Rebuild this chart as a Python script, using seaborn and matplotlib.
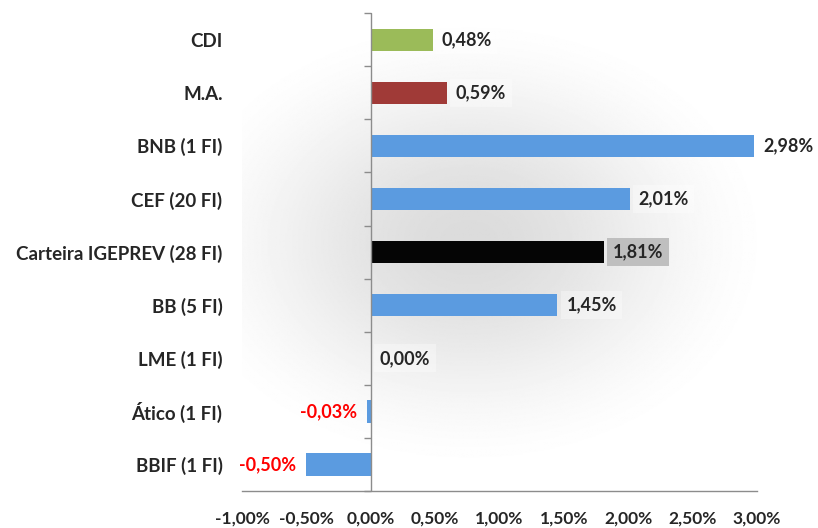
import numpy as np
import pandas as pd
import matplotlib
matplotlib.use("Agg")
import matplotlib.pyplot as plt
import seaborn as sns

# data
categories = ["CDI", "M.A.", "BNB (1 FI)", "CEF (20 FI)", "Carteira IGEPREV (28 FI)",
              "BB (5 FI)", "LME (1 FI)", "Ático (1 FI)", "BBIF (1 FI)"]
returns_pct = [0.48, 0.59, 2.98, 2.01, 1.81, 1.45, 0.00, -0.03, -0.50]
bar_colors = ["#9BBB59", "#A03A37", "#5B9BE0", "#5B9BE0", "#050505",
              "#5B9BE0", "#5B9BE0", "#5B9BE0", "#5B9BE0"]
x_ticks = [-1.0, -0.5, 0.0, 0.5, 1.0, 1.5, 2.0, 2.5, 3.0]

df = pd.DataFrame({"categoria": categories, "retorno": returns_pct})

sns.set_theme(style="white")
plt.rcParams["font.family"] = ["Lato", "DejaVu Sans"]
plt.rcParams["font.weight"] = "bold"

fig = plt.figure(figsize=(8.18, 5.28), dpi=100)
ax = fig.add_axes([0.2958, 0.070, 0.6296, 0.905])

# radial gray background like the Excel plot area
gx, gy = np.meshgrid(np.linspace(0, 1, 400), np.linspace(0, 1, 400))
r = np.sqrt(((gx - 0.44) / 0.62) ** 2 + ((gy - 0.52) / 0.50) ** 2)
t = np.clip(r, 0, 1)
shade = 0.86 + 0.14 * (t * t * (3 - 2 * t))
ax.imshow(shade, cmap="gray", vmin=0, vmax=1, extent=[0, 1, 0, 1],
          transform=ax.transAxes, aspect="auto", zorder=0, origin="lower")

sns.barplot(data=df, y="categoria", x="retorno", hue="categoria",
            palette=dict(zip(categories, bar_colors)), orient="h",
            width=0.42, legend=False, ax=ax, zorder=2, saturation=1,
            linewidth=0)

ax.set_xlim(-1.0, 3.0)
ax.set_ylim(len(categories) - 0.5, -0.5)
ax.set_xticks(x_ticks)
ax.set_xticklabels([f"{t:.2f}%".replace(".", ",") for t in x_ticks])
ax.set_xlabel("")
ax.set_ylabel("")

for sp in ["top", "right", "left"]:
    ax.spines[sp].set_visible(False)
ax.spines["bottom"].set_color("#8C8C8C")
ax.spines["bottom"].set_linewidth(1.0)
ax.tick_params(axis="x", direction="out", length=5, width=1, color="#8C8C8C",
               labelsize=12.5, pad=9)
ax.tick_params(axis="y", length=0, labelsize=13.5, pad=14)
for lbl in ax.get_xticklabels() + ax.get_yticklabels():
    lbl.set_fontweight("bold")
    lbl.set_color("#262626")

# vertical category axis at zero with boundary ticks
ax.axvline(0, color="#8C8C8C", lw=1.0, zorder=3)
sec = ax.secondary_yaxis(0.25)
sec.set_yticks(np.arange(len(categories) + 1) - 0.5)
sec.set_yticklabels([])
sec.tick_params(axis="y", direction="out", length=5, width=1, color="#8C8C8C")
sec.spines["left"].set_visible(False)

# value labels
for i, v in enumerate(returns_pct):
    txt = f"{v:.2f}%".replace(".", ",")
    if v < 0:
        ax.annotate(txt, (v, i), xytext=(-7, 0), textcoords="offset points",
                    ha="right", va="center", color="#FF0000", fontsize=13,
                    fontweight="bold", zorder=4)
    else:
        box = dict(boxstyle="square,pad=0.3", fc="#FFFFFF", ec="none", alpha=0.35)
        if categories[i].startswith("Carteira"):
            box = dict(boxstyle="square,pad=0.3", fc="#BFBFBF", ec="none")
        ax.annotate(txt, (v, i), xytext=(6.5, 0), textcoords="offset points",
                    ha="left", va="center", color="#262626", fontsize=13,
                    fontweight="bold", bbox=box, zorder=4)

fig.savefig("out.png", dpi=100)
